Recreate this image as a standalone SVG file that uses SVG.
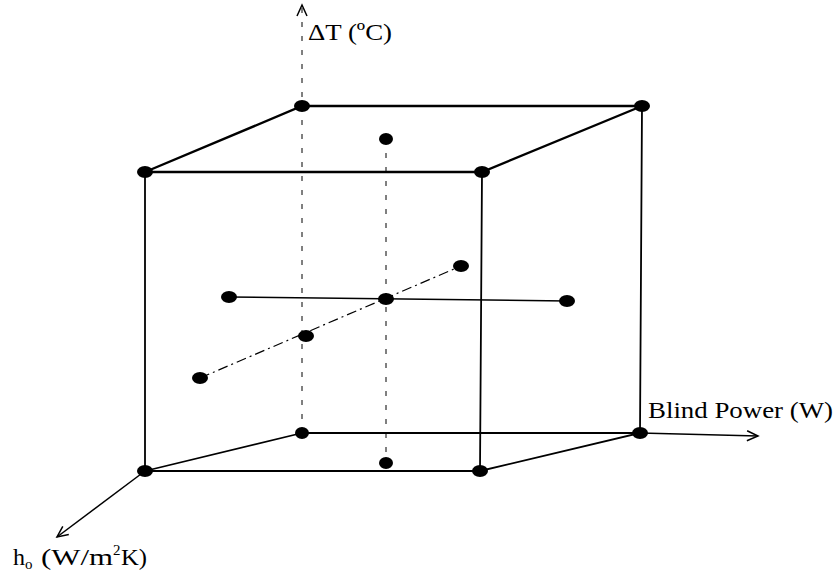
<svg xmlns="http://www.w3.org/2000/svg" width="840" height="577" viewBox="0 0 840 577">
<style>
.e{stroke:#000;stroke-width:1.8;fill:none}
.et{stroke:#000;stroke-width:2.4;fill:none}
.d{stroke:#000;stroke-width:1;fill:none;stroke-dasharray:5 9}
.dd{stroke:#000;stroke-width:1.2;fill:none;stroke-dasharray:10 4 2 4}
.ax{stroke:#000;stroke-width:1.5;fill:none}
.p{fill:#000}
text{font-family:"Liberation Serif",serif;font-size:24px;fill:#000}
text.s,tspan.s{font-size:15px}
</style>
<defs>
<marker id="ar" markerWidth="14" markerHeight="12" refX="12" refY="6" orient="auto" markerUnits="userSpaceOnUse">
<path d="M1,1 L12,6 L1,11" fill="none" stroke="#000" stroke-width="1.5"/>
</marker>
</defs>
<g id="connectors">
<line class="d" x1="302" y1="433" x2="302" y2="5" marker-end="url(#ar)"/>
<line class="ax" x1="640" y1="433" x2="758" y2="436" marker-end="url(#ar)"/>
<line class="ax" x1="145" y1="471" x2="57" y2="537" marker-end="url(#ar)"/>
<line class="d" x1="386" y1="139" x2="386" y2="463"/>
<line class="ax" x1="229" y1="297" x2="567" y2="301"/>
<line class="dd" x1="200" y1="378" x2="461" y2="266"/>
<path class="et" d="M145,172 L302,106 L642,106 L482,172 Z"/>
<path class="e" d="M145,172 L145,471 L480,471 L482,172"/>
<path class="e" d="M642,106 L640,433 L480,471"/>
<path class="e" d="M302,433 L640,433"/>
<path class="e" d="M145,471 L302,433"/>
</g>
<g id="n-ftl"><ellipse class="p" cx="145" cy="172" rx="8" ry="6"/></g>
<g id="n-ftr"><ellipse class="p" cx="482" cy="172" rx="8" ry="6"/></g>
<g id="n-btl"><ellipse class="p" cx="302" cy="106" rx="8" ry="6"/></g>
<g id="n-btr"><ellipse class="p" cx="642" cy="106" rx="8" ry="6"/></g>
<g id="n-fbl"><ellipse class="p" cx="145" cy="471" rx="8" ry="6"/></g>
<g id="n-fbr"><ellipse class="p" cx="480" cy="471" rx="8" ry="6"/></g>
<g id="n-bbl"><ellipse class="p" cx="302" cy="433" rx="7" ry="6"/></g>
<g id="n-bbr"><ellipse class="p" cx="640" cy="433" rx="8" ry="6"/></g>
<g id="n-top"><ellipse class="p" cx="386" cy="139" rx="7" ry="6"/></g>
<g id="n-bot"><ellipse class="p" cx="386" cy="463" rx="7" ry="6"/></g>
<g id="n-center"><ellipse class="p" cx="386" cy="299" rx="8" ry="6"/></g>
<g id="n-left"><ellipse class="p" cx="229" cy="297" rx="8" ry="6"/></g>
<g id="n-right"><ellipse class="p" cx="567" cy="301" rx="8" ry="6"/></g>
<g id="n-mid-front"><ellipse class="p" cx="306" cy="336" rx="8" ry="6"/></g>
<g id="n-back"><ellipse class="p" cx="461" cy="266" rx="8" ry="6"/></g>
<g id="n-front"><ellipse class="p" cx="200" cy="378" rx="8" ry="6"/></g>
<g id="labels">
<text x="308" y="40" textLength="84" lengthAdjust="spacingAndGlyphs">ΔT (ºC)</text>
<text x="648" y="418" textLength="185" lengthAdjust="spacingAndGlyphs">Blind Power (W)</text>
<text x="13" y="565">h<tspan class="s" dy="4">o</tspan></text>
<text x="41" y="565" textLength="72" lengthAdjust="spacingAndGlyphs">(W/m</text>
<text class="s" x="113" y="555">2</text>
<text x="121" y="565" textLength="26" lengthAdjust="spacingAndGlyphs">K)</text>
</g>
</svg>
